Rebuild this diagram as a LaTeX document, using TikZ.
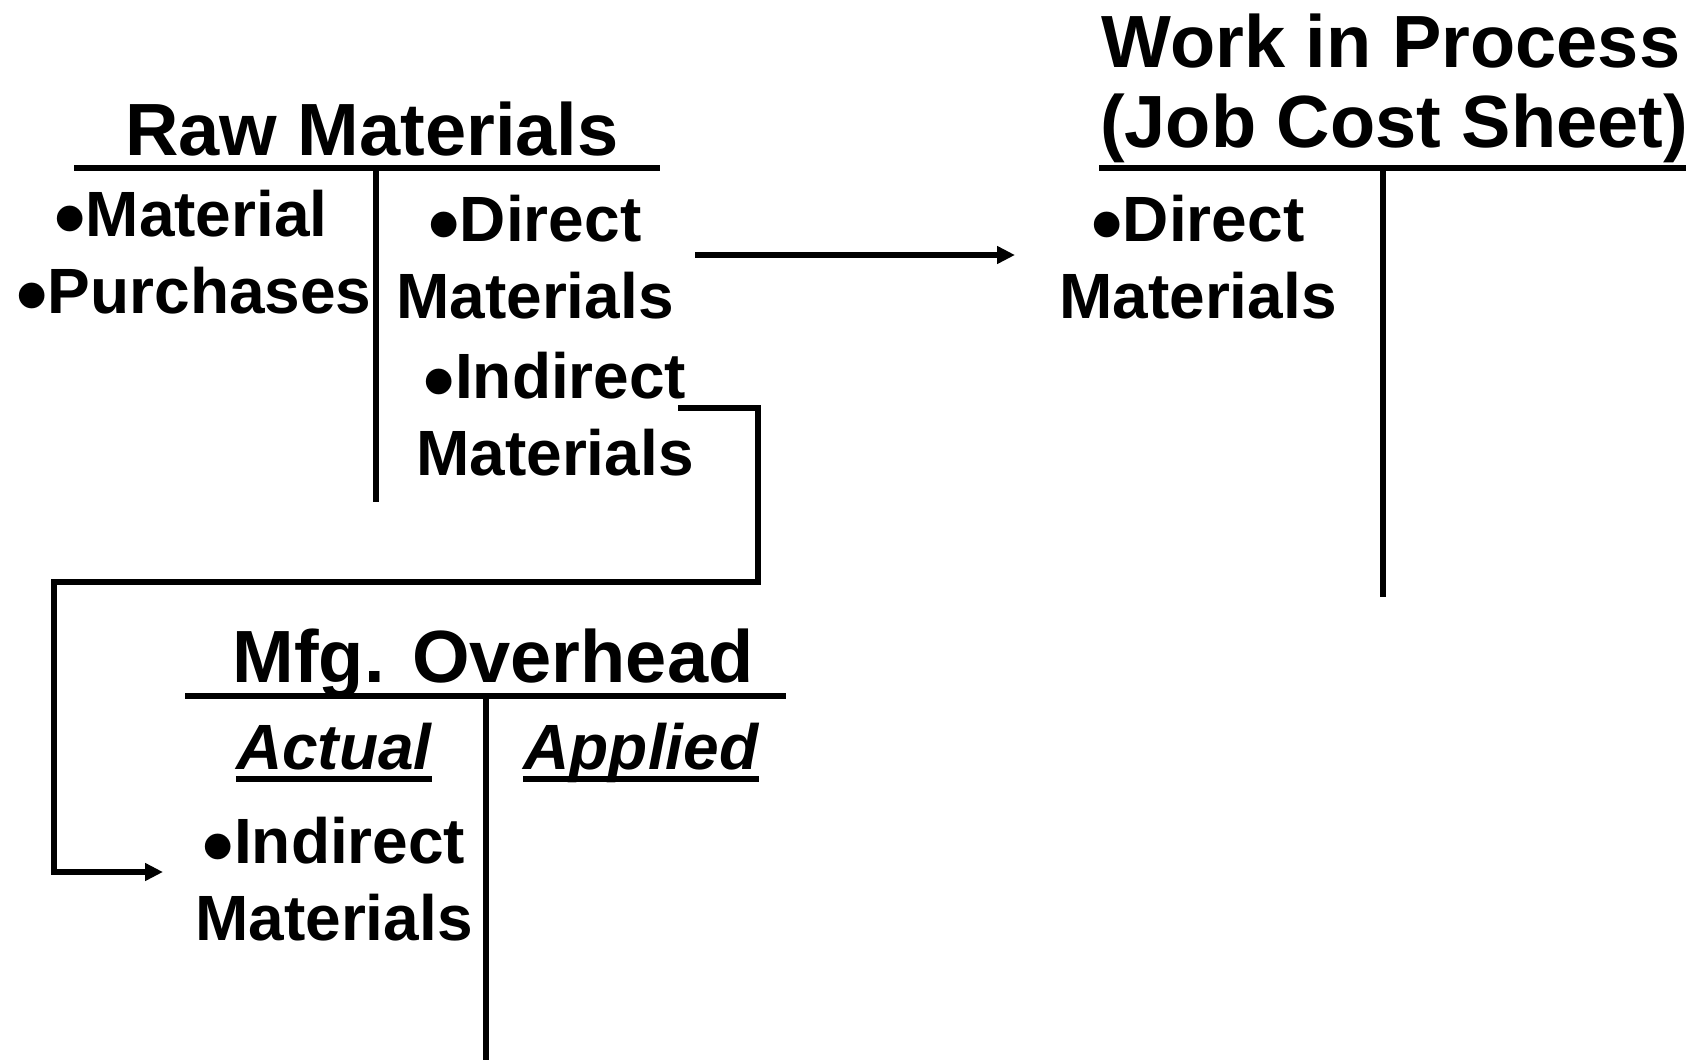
\documentclass[tikz,border=0pt]{standalone}
\usepackage{fontspec}
\setmainfont{Liberation Sans}
\usetikzlibrary{arrows.meta}

\newcommand{\bul}{\raisebox{-0.2em}{\scalebox{1.4}{•}}}

\tikzset{
  acct/.style={line width=3.25pt},
  flow/.style={line width=3pt, -{Triangle[length=9pt,width=8.5pt]}},
  ttl/.style={font=\fontsize{37}{40}\selectfont\bfseries, inner sep=0pt, anchor=base},
  entry/.style={font=\fontsize{32}{38.5}\selectfont\bfseries, inner sep=0pt, align=center, anchor=north},
  side/.style={font=\fontsize{32}{38}\selectfont\bfseries\itshape, inner sep=0pt, anchor=base},
}

\begin{document}
\begin{tikzpicture}[x=0.5pt, y=-0.5pt]
  \useasboundingbox (0,0) rectangle (1702,1060);

  % Raw Materials
  \node[ttl] (rmttl) at (372,155) {Raw Materials};
  \draw[acct] (74,168) -- (660,168);
  \draw[acct] (376,168) -- (376,502);
  \node[entry, anchor=base west] (rmmp) at (54,236) {\bul Material};
  \node[entry, anchor=base west] (rmpu) at (16,313) {\bul Purchases};
  \node[entry] (rmdm) at (535,195) {\bul Direct\\Materials};
  \node[entry] (rmim) at (555,352) {\bul Indirect\\Materials};

  % Work in Process
  \node[ttl] (wipa) at (1391,67) {Work in Process};
  \node[ttl] (wipb) at (1394,147) {(Job Cost Sheet)};
  \draw[acct] (1099,168) -- (1686,168);
  \draw[acct] (1383,168) -- (1383,597);
  \node[entry] (wipdm) at (1198,195) {\bul Direct\\Materials};

  % Mfg. Overhead
  \node[ttl] (mohttl) at (493,682) {Mfg. Overhead};
  \draw[acct] (185,696) -- (786,696);
  \draw[acct] (486,696) -- (486,1060);
  \node[side] (act) at (334,769) {Actual};
  \node[side] (app) at (641,769) {Applied};
  \draw[line width=3pt] ([yshift=-5pt]act.base west) -- ([yshift=-5pt]act.base east);
  \draw[line width=3pt] ([yshift=-5pt]app.base west) -- ([yshift=-5pt]app.base east);
  \node[entry] (mohim) at (334,817) {\bul Indirect\\Materials};

  % flows
  \coordinate (dmout) at (695,255);
  \coordinate (dmin) at (1015,255);
  \coordinate (imout) at (678,408);
  \coordinate (imin) at (163,872);
  \draw[flow] (dmout) -- (dmin);
  \draw[flow] (imout) -- ++(80,0) |- (54,582) |- (imin);
\end{tikzpicture}
\end{document}
